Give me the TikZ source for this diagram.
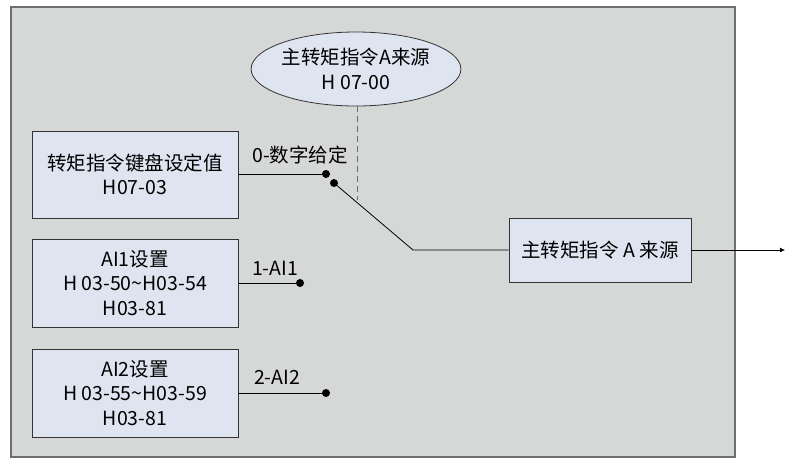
\documentclass[tikz,border=0pt]{standalone}
\usepackage{fontspec}
\setmainfont{Noto Sans CJK SC}
\usetikzlibrary{arrows.meta,positioning,shapes.geometric}
\definecolor{framegray}{RGB}{214,216,215}
\definecolor{boxblue}{RGB}{222,228,240}
\definecolor{edgegray}{RGB}{110,110,110}
\tikzset{
  jdot/.style={circle,fill,inner sep=0pt,minimum size=8pt},
  blk/.style={draw=black!80,fill=boxblue,line width=0.8pt,minimum width=206pt,minimum height=87pt,align=center,inner sep=0pt},
  src/.style={ellipse,draw=black!80,fill=boxblue,line width=0.8pt,minimum width=208pt,minimum height=74pt,align=center,inner sep=0pt},
  arr/.style={-{Latex[length=5pt,width=5pt]}},
  wire/.style={line width=0.8pt},
}
\begin{document}
\begin{tikzpicture}[x=1pt,y=-1pt,font=\fontsize{19.5}{24.5}\selectfont]
  \useasboundingbox (0,0) rectangle (786,459);
  \draw[draw=edgegray,fill=framegray,line width=1.2pt] (11,7) rectangle (735,457);
  % source selector
  \node[src] (sel) at (356,69) {主转矩指令A来源\\H 07-00};
  % input blocks
  \node[blk] (kbd) at (135,174.5) {转矩指令键盘设定值\\H07-03};
  \node[blk,minimum height=88pt] (ai1) at (135,283) {AI1设置\\H 03-50\textasciitilde H03-54\\H03-81};
  \node[blk,minimum height=88pt] (ai2) at (135,393) {AI2设置\\H 03-55\textasciitilde H03-59\\H03-81};
  \node[blk,minimum width=182pt,minimum height=64pt] (out) at (600,250) {主转矩指令 A 来源};
  % switch contacts
  \node[jdot] (c0) at (326,174) {};
  \node[jdot] (sw) at (334,183) {};
  \node[jdot] (c1) at (300,283) {};
  \node[jdot] (c2) at (326,393) {};
  \coordinate (bend) at (413,250);
  \coordinate (dend) at (357,200);
  \coordinate (outend) at (785,250);
  \draw[wire] (kbd.east |- c0) -- (c0.center);
  \draw[wire] (ai1.east |- c1) -- (c1.center);
  \draw[wire] (ai2.east |- c2) -- (c2.center);
  \draw[wire] (sw.center) -- (bend) -- (out.west);
  \draw[wire,dashed,edgegray,dash pattern=on 6pt off 4pt] (sel.south -| dend) -- (dend);
  \draw[wire,arr] (out.east) -- (outend);
  \node at (300,155) {0-数字给定};
  \node at (275,268) {1-AI1};
  \node at (277,377) {2-AI2};
\end{tikzpicture}
\end{document}
